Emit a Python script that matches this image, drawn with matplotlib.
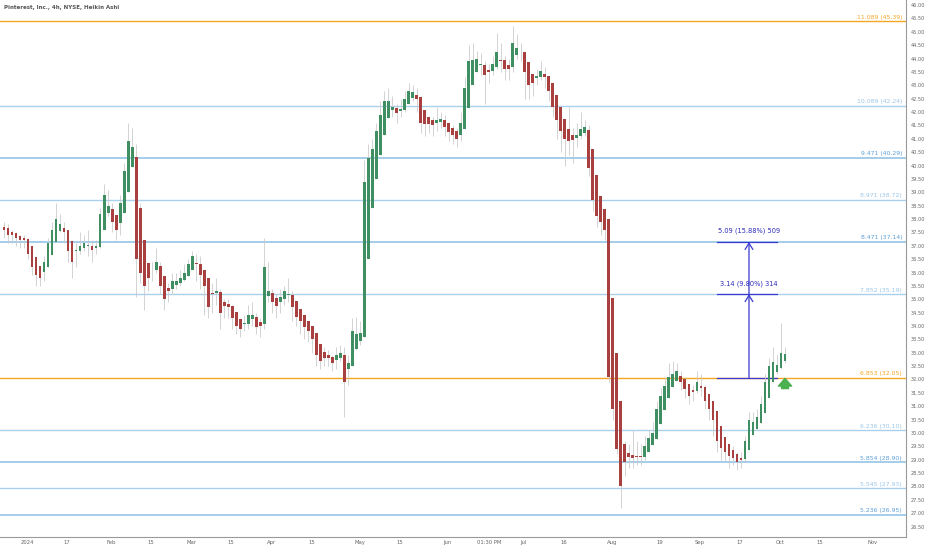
"""Pinterest 4h Heikin Ashi chart with fib-style extension levels."""

import matplotlib

matplotlib.use("Agg")
import matplotlib.pyplot as plt
import matplotlib.transforms as mtransforms
import numpy as np
import pandas as pd

TITLE = "Pinterest, Inc., 4h, NYSE, Heikin Ashi"

# trading calendar (NYSE holidays in range)
FIRST_DAY = "2023-12-21"
LAST_CAL_DAY = "2024-11-29"
HOLIDAYS = ["2023-12-25", "2024-01-01", "2024-01-15", "2024-02-19", "2024-03-29",
            "2024-05-27", "2024-06-19", "2024-07-04", "2024-09-02", "2024-11-28"]

FIRST_OPEN = 37.7

# Heikin Ashi closes, one per trading day (Dec 21 .. Oct 2)
ha_close = [
    37.6, 37.4, 37.4, 37.3, 37.2, 37.2, 36.7, 36.2, 35.9, 35.8,
    36.4, 37.1, 37.6, 38.0, 37.8, 37.5, 36.8, 36.4, 36.8, 37.0,
    37.1, 37.0, 36.85, 37.0, 38.2, 38.9, 38.5, 37.9, 37.6, 38.6,
    39.8, 40.9, 40.7, 36.5, 36.0, 35.5, 35.8, 36.1, 36.4, 35.5,
    35.0, 35.3, 35.7, 35.7, 35.8, 36.0, 36.3, 36.6, 36.3, 35.9,
    35.5, 34.7, 35.2, 35.3, 34.5, 34.75, 34.7, 34.3, 34.0, 33.9,
    34.1, 34.4, 34.4, 33.95, 34.0, 36.2, 35.3, 34.9, 34.75, 35.1,
    35.3, 35.2, 34.7, 34.35, 34.2, 33.95, 33.8, 33.5, 32.9, 32.7,
    32.8, 32.8, 32.6, 32.9, 33.0, 31.9, 32.6, 33.8, 33.7, 33.75,
    39.4, 40.3, 40.6, 41.3, 41.9, 42.4, 42.4, 42.2, 41.95, 42.1,
    42.5, 42.8, 42.75, 42.5, 41.6, 41.55, 41.55, 41.5, 41.7, 41.75,
    41.45, 41.25, 41.15, 41.0, 41.6, 42.9, 43.9, 43.95, 44.0, 43.8,
    43.4, 43.5, 43.8, 44.25, 43.9, 43.6, 43.6, 44.6, 44.4, 44.25,
    43.5, 43.0, 43.1, 43.35, 43.55, 43.3, 42.8, 42.2, 41.7, 41.3,
    41.0, 40.9, 40.95, 41.15, 41.35, 41.45, 39.9, 38.7, 38.1, 37.9,
    37.6, 32.1, 30.9, 29.4, 28.0, 28.9, 29.1, 29.05, 29.1, 29.1,
    29.5, 29.8, 30.0, 30.9, 31.4, 31.75, 32.1, 32.2, 32.3, 31.9,
    31.65, 31.4, 31.55, 31.9, 31.7, 31.2, 30.9, 30.5, 29.7, 29.45,
    29.3, 29.15, 29.05, 28.9, 29.0, 29.7, 30.5, 30.4, 30.6, 31.1,
    31.9, 32.5, 32.65, 32.55, 33.0, 32.95,
]
ha_high = [
    37.9, 37.8, 37.6, 37.5, 37.4, 37.4, 37.3, 36.8, 36.4, 36.2,
    36.6, 37.3, 37.9, 38.6, 38.2, 37.9, 37.6, 36.9, 37.1, 37.5,
    37.4, 37.6, 37.2, 37.2, 38.4, 39.3, 39.1, 38.6, 38.0, 38.9,
    40.1, 41.6, 41.4, 40.8, 38.6, 36.5, 36.2, 36.4, 36.9, 36.4,
    35.6, 35.6, 36.0, 36.0, 36.1, 36.3, 36.5, 36.8, 36.7, 36.6,
    36.0, 35.6, 35.6, 35.8, 35.4, 35.0, 35.0, 34.8, 34.3, 34.2,
    34.4, 34.8, 34.9, 34.5, 34.3, 37.3, 36.4, 35.4, 35.2, 35.4,
    35.5, 35.8, 35.3, 34.9, 34.6, 34.4, 34.1, 33.9, 33.5, 33.1,
    33.2, 33.1, 32.9, 33.2, 33.3, 33.2, 32.9, 34.3, 34.35, 34.2,
    40.2, 40.8, 41.0, 41.6, 42.4, 42.8, 42.9, 42.6, 42.3, 42.5,
    42.8, 43.1, 43.0, 42.9, 42.6, 41.9, 41.8, 41.8, 42.2, 42.0,
    41.9, 41.6, 41.5, 41.4, 42.0, 43.3, 44.5, 44.6, 44.3, 44.2,
    43.9, 43.8, 44.1, 44.95, 44.6, 44.1, 44.0, 45.2, 44.9, 44.6,
    44.2, 43.5, 43.4, 43.6, 43.9, 43.7, 43.3, 42.8, 42.2, 41.8,
    41.5, 42.2, 41.4, 41.6, 42.0, 41.7, 41.5, 40.0, 38.8, 38.4,
    38.0, 37.7, 33.0, 31.1, 29.8, 29.7, 29.6, 30.1, 29.7, 29.6,
    29.9, 30.1, 30.4, 31.2, 31.7, 32.1, 32.6, 32.7, 32.6, 32.3,
    32.1, 31.8, 31.8, 32.3, 32.2, 31.8, 31.4, 31.0, 30.6, 29.9,
    29.7, 29.6, 29.5, 29.3, 29.3, 29.9, 30.8, 30.8, 30.9, 31.4,
    32.2, 32.8, 33.2, 32.9, 34.1, 33.2,
]
ha_low = [
    37.3, 37.1, 37.1, 37.0, 36.9, 36.9, 36.5, 35.9, 35.5, 35.5,
    35.7, 36.2, 37.0, 37.4, 37.5, 37.1, 36.4, 35.8, 36.2, 36.7,
    36.8, 36.6, 36.4, 36.7, 36.9, 37.9, 38.1, 37.5, 37.2, 37.4,
    38.4, 39.6, 40.3, 35.1, 35.6, 34.6, 35.3, 35.7, 36.0, 35.2,
    34.6, 34.9, 35.2, 35.4, 35.5, 35.7, 35.9, 36.2, 35.7, 35.4,
    34.4, 34.3, 34.5, 34.8, 33.9, 34.3, 34.3, 33.9, 33.7, 33.6,
    33.8, 33.9, 34.0, 33.7, 33.6, 33.9, 34.9, 34.5, 34.3, 34.5,
    34.8, 34.9, 34.2, 34.0, 33.7, 33.5, 33.4, 33.0, 32.5, 32.4,
    32.5, 32.5, 32.3, 32.4, 32.7, 30.6, 31.8, 32.5, 33.1, 33.3,
    33.7, 38.6, 40.0, 40.5, 41.2, 41.8, 42.0, 41.8, 41.6, 41.8,
    42.0, 42.4, 42.4, 42.0, 41.2, 41.1, 41.2, 41.1, 41.3, 41.4,
    41.1, 40.9, 40.8, 40.7, 40.9, 41.5, 42.8, 43.6, 43.6, 43.4,
    42.3, 43.1, 43.4, 43.6, 43.5, 43.2, 43.2, 43.5, 44.0, 43.9,
    42.5, 42.5, 42.6, 43.0, 43.2, 42.9, 42.4, 41.8, 41.0, 40.5,
    40.0, 40.4, 40.1, 40.7, 41.0, 41.1, 39.6, 38.3, 37.7, 37.4,
    37.2, 31.9, 30.5, 29.2, 27.2, 28.4, 28.7, 28.7, 28.8, 28.8,
    29.0, 29.3, 29.6, 30.0, 30.8, 31.3, 31.6, 31.9, 32.0, 31.6,
    31.3, 31.1, 31.2, 31.5, 31.4, 30.9, 30.5, 29.9, 29.3, 29.0,
    28.9, 28.7, 28.8, 28.6, 28.7, 28.9, 29.6, 30.1, 30.2, 30.5,
    31.0, 31.8, 32.3, 32.2, 32.4, 32.6,
]

# extension levels: ratio, price, style
level_ratio = ["11.089", "10.089", "9.471", "8.971", "8.471", "7.852",
               "6.853", "6.236", "5.854", "5.545", "5.236"]
level_price = [45.39, 42.24, 40.29, 38.72, 37.14, 35.19, 32.05, 30.10, 28.90, 27.93, 26.95]
level_kind = ["key", "light", "mid", "light", "mid", "light",
              "key", "light", "mid", "light", "mid"]

# x axis labels (date, which 4h bar of the day, text)
tick_dates = ["2024-01-02", "2024-01-17", "2024-02-01", "2024-02-15", "2024-03-01",
              "2024-03-15", "2024-04-01", "2024-04-15", "2024-05-01", "2024-05-15",
              "2024-06-03", "2024-06-17", "2024-07-01", "2024-07-16", "2024-08-01",
              "2024-08-19", "2024-09-03", "2024-09-17", "2024-10-01", "2024-10-15",
              "2024-11-01"]
tick_bar = [0, 0, 0, 0, 0, 0, 0, 0, 0, 0, 0, 1, 0, 0, 0, 0, 0, 0, 0, 0, 0]
tick_labels = ["2024", "17", "Feb", "15", "Mar", "15", "Apr", "15", "May", "15",
               "Jun", "01:30 PM", "Jul", "16", "Aug", "19", "Sep", "17", "Oct", "15", "Nov"]

# price-range measurement drawing
measure_base = 32.05
measure_levels = [35.19, 37.14]
measure_text = ["3.14 (9.80%) 314", "5.09 (15.88%) 509"]
measure_date = "2024-09-19"
measure_span = ["2024-09-09", "2024-09-30"]
signal_date = "2024-10-02"
signal_prices = [31.66, 32.04]

GREEN = "#3f8f63"
RED = "#a8403f"
WICK = "#c8c8c8"
ORANGE = "#f5a623"
LINE_LIGHT = "#a9d0ec"
LINE_MID = "#8cc0e6"
TEXT_LIGHT = "#9cc6e8"
TEXT_MID = "#5c9fd8"
MEASURE = "#3a3ad0"
AXIS_TEXT = "#666666"

cal = pd.bdate_range(FIRST_DAY, LAST_CAL_DAY)
cal = cal[~cal.isin(pd.to_datetime(HOLIDAYS))]


def xpos(day):
    return float(cal.get_loc(pd.Timestamp(day)))


closes = np.array(ha_close)
n = len(closes)
opens = np.empty(n)
opens[0] = FIRST_OPEN
for i in range(1, n):
    opens[i] = (opens[i - 1] + closes[i - 1]) / 2
highs = np.maximum.reduce([np.array(ha_high), opens, closes])
lows = np.minimum.reduce([np.array(ha_low), opens, closes])
up = closes >= opens
x = np.arange(n)

fig = plt.figure(figsize=(9.32, 5.5), dpi=100)
ax = fig.add_axes([0, 13 / 550, 906 / 932, 537 / 550])

ax.set_xlim(-0.99, 225.2)
ax.set_ylim(26.11, 46.19)

for ratio, price, kind in zip(level_ratio, level_price, level_kind):
    if kind == "key":
        lc, tc, lw = ORANGE, ORANGE, 1.0
    elif kind == "mid":
        lc, tc, lw = LINE_MID, TEXT_MID, 1.1
    else:
        lc, tc, lw = LINE_LIGHT, TEXT_LIGHT, 1.0
    ax.axhline(price, color=lc, lw=lw, zorder=1)
    ax.annotate(f"{ratio} ({price:.2f})", xy=(0.9956, price),
                xycoords=mtransforms.blended_transform_factory(ax.transAxes, ax.transData),
                xytext=(0, 1.2), textcoords="offset points",
                ha="right", va="bottom", fontsize=4.4, color=tc)

# measurement drawing
mx = xpos(measure_date)
x0, x1 = xpos(measure_span[0]), xpos(measure_span[1])
for price in [measure_base] + measure_levels:
    ax.plot([x0, x1], [price, price], color=MEASURE, lw=0.9, zorder=2)
lows_chain = [measure_base] + measure_levels[:-1]
for start, end, label in zip(lows_chain, measure_levels, measure_text):
    ax.annotate("", xy=(mx, end), xytext=(mx, start),
                arrowprops=dict(arrowstyle="->,head_length=0.45,head_width=0.28",
                                color=MEASURE, lw=0.9, shrinkA=0, shrinkB=0),
                zorder=2)
    ax.annotate(label, xy=(mx, end), xytext=(0, 5.5), textcoords="offset points",
                ha="center", va="bottom", fontsize=4.8, color="#2b2bb8")

# candles
ax.vlines(x, lows, highs, color=WICK, lw=0.55, zorder=3)
body = np.where(np.abs(closes - opens) < 0.03, 0.03, closes - opens)
ax.bar(x, body, bottom=opens, width=0.7,
       color=np.where(up, GREEN, RED), linewidth=0, zorder=4)

# signal arrow
sx = xpos(signal_date)
ax.annotate("", xy=(sx, signal_prices[1]), xytext=(sx, signal_prices[0]),
            arrowprops=dict(arrowstyle="simple,head_length=0.55,head_width=0.95,tail_width=0.5",
                            color="#4caf50", shrinkA=0, shrinkB=0), zorder=5)

# axes styling
for side in ("left", "top"):
    ax.spines[side].set_visible(False)
for side in ("right", "bottom"):
    ax.spines[side].set_color("#9a9a9a")
    ax.spines[side].set_linewidth(0.8)

ax.yaxis.tick_right()
ax.set_yticks(np.arange(26.5, 46.01, 0.5))
ax.set_yticklabels([f"{v:.2f}" for v in np.arange(26.5, 46.01, 0.5)])
ax.tick_params(axis="y", length=0, pad=3.5, labelsize=3.6, labelcolor=AXIS_TEXT)

ax.set_xticks([xpos(d) - 0.25 + 0.5 * b for d, b in zip(tick_dates, tick_bar)])
ax.set_xticklabels(tick_labels)
ax.tick_params(axis="x", length=0, pad=2.2, labelsize=3.8, labelcolor=AXIS_TEXT)

fig.text(4 / 932, 1 - 7 / 550, TITLE, fontsize=4.0, fontweight="bold",
         color="#555555", ha="left", va="center")

fig.savefig("out.png", dpi=100)
